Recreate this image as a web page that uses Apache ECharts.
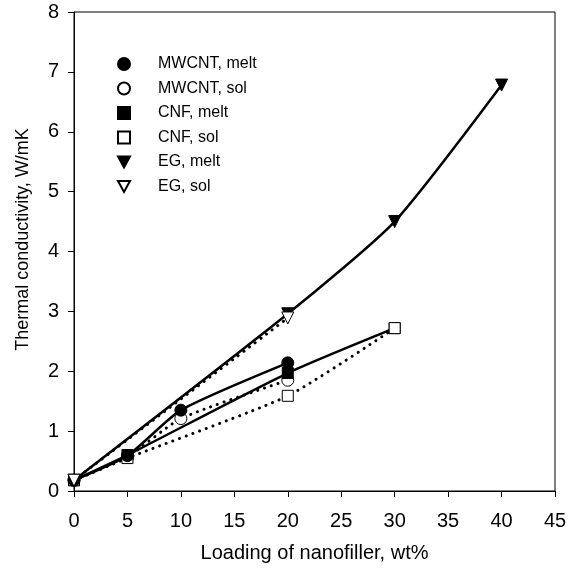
<!DOCTYPE html>
<html>
<head>
<meta charset="utf-8">
<script src="https://cdn.jsdelivr.net/npm/echarts@6/dist/echarts.min.js"></script>
<style>
  html, body { margin: 0; padding: 0; background: #fff; }
  #main { width: 568px; height: 571px; }
</style>
</head>
<body>
<div id="main"></div>
<script>
var mwcntMeltX = [0, 5, 10, 20];
var mwcntMeltY = [0.18, 0.59, 1.35, 2.14];
var mwcntSolX = [0, 5, 10, 20];
var mwcntSolY = [0.18, 0.57, 1.21, 1.85];
var cnfMeltX = [0, 5, 20, 30];
var cnfMeltY = [0.18, 0.6, 1.97, 2.72];
var cnfSolX = [0, 5, 20, 30];
var cnfSolY = [0.18, 0.55, 1.59, 2.72];
var egMeltX = [0, 20, 30, 40];
var egMeltY = [0.18, 2.96, 4.5, 6.78];
var egSolX = [0, 20];
var egSolY = [0.18, 2.89];

var names = ['MWCNT, melt', 'MWCNT, sol', 'CNF, melt', 'CNF, sol', 'EG, melt', 'EG, sol'];
var triDown = 'path://M0,0 L10,0 L5,9 Z';
var font = 'Liberation Sans, Arial';

function pairs(xs, ys) {
  return xs.map(function (x, i) { return [x, ys[i]]; });
}

// curve only, kept under the markers
function curve(name, xs, ys, dotted) {
  return {
    name: name,
    type: 'line',
    smooth: 0.2,
    data: pairs(xs, ys),
    symbol: 'none',
    lineStyle: dotted
      ? { color: '#000', width: 3, type: [0.1, 7], cap: 'round' }
      : { color: '#000', width: 2.5 },
    itemStyle: { color: '#000' },
    emphasis: { disabled: true },
    silent: true,
    z: 1
  };
}

// markers drawn on top of every curve
function marks(name, xs, ys, symbol, filled, size) {
  return {
    name: name,
    type: 'scatter',
    data: pairs(xs, ys),
    symbol: symbol,
    symbolSize: size,
    itemStyle: {
      color: filled ? '#000' : '#fff',
      borderColor: '#000',
      borderWidth: 1,
      opacity: 1
    },
    emphasis: { disabled: true },
    z: 3
  };
}

var chart = echarts.init(document.getElementById('main'), null, { renderer: 'canvas' });

var option = {
  animation: false,
  backgroundColor: '#fff',
  grid: {
    left: 74, top: 12, width: 481, height: 479,
    outerBoundsMode: 'none',
    containLabel: false,
    show: true, borderColor: '#000', borderWidth: 1
  },
  legend: {
    orient: 'vertical',
    left: 112,
    top: 51,
    itemWidth: 12,
    itemHeight: 12,
    itemGap: 8.5,
    selectedMode: false,
    textStyle: { fontFamily: font, fontSize: 16, color: '#000', padding: [0, 0, 0, 23] },
    data: [
      { name: names[0], icon: 'circle' },
      { name: names[1], icon: 'circle' },
      { name: names[2], icon: 'rect' },
      { name: names[3], icon: 'rect' },
      { name: names[4], icon: triDown },
      { name: names[5], icon: triDown }
    ]
  },
  xAxis: {
    type: 'value',
    min: 0, max: 45, interval: 5,
    name: 'Loading of nanofiller, wt%',
    nameLocation: 'middle',
    nameGap: 52,
    nameTextStyle: { fontFamily: font, fontSize: 20, color: '#000' },
    axisLine: { show: true, lineStyle: { color: '#000', width: 1 } },
    axisTick: { show: true, inside: false, length: 6, lineStyle: { color: '#000' } },
    axisLabel: { fontFamily: font, fontSize: 20, color: '#000', margin: 20 },
    splitLine: { show: false }
  },
  yAxis: {
    type: 'value',
    min: 0, max: 8, interval: 1,
    name: 'Thermal conductivity, W/mK',
    nameLocation: 'middle',
    nameGap: 42,
    nameTextStyle: { fontFamily: font, fontSize: 18, color: '#000', padding: [0, 0, 0, 24] },
    axisLine: { show: true, lineStyle: { color: '#000', width: 1 } },
    axisTick: { show: true, inside: false, length: 6, lineStyle: { color: '#000' } },
    axisLabel: { fontFamily: font, fontSize: 20, color: '#000', margin: 15 },
    splitLine: { show: false }
  },
  series: [
    marks(names[1], mwcntSolX, mwcntSolY, 'circle', false, 12),
    marks(names[2], cnfMeltX, cnfMeltY, 'rect', true, 11),
    marks(names[3], cnfSolX, cnfSolY, 'rect', false, 11),
    marks(names[0], mwcntMeltX, mwcntMeltY, 'circle', true, 12),
    marks(names[4], egMeltX, egMeltY, triDown, true, 12),
    marks(names[5], egSolX, egSolY, triDown, false, 12),
    curve(names[0], mwcntMeltX, mwcntMeltY, false),
    curve(names[1], mwcntSolX, mwcntSolY, true),
    curve(names[2], cnfMeltX, cnfMeltY, false),
    curve(names[3], cnfSolX, cnfSolY, true),
    curve(names[4], egMeltX, egMeltY, false),
    curve(names[5], egSolX, egSolY, true)
  ]
};

chart.setOption(option);
</script>
</body>
</html>
